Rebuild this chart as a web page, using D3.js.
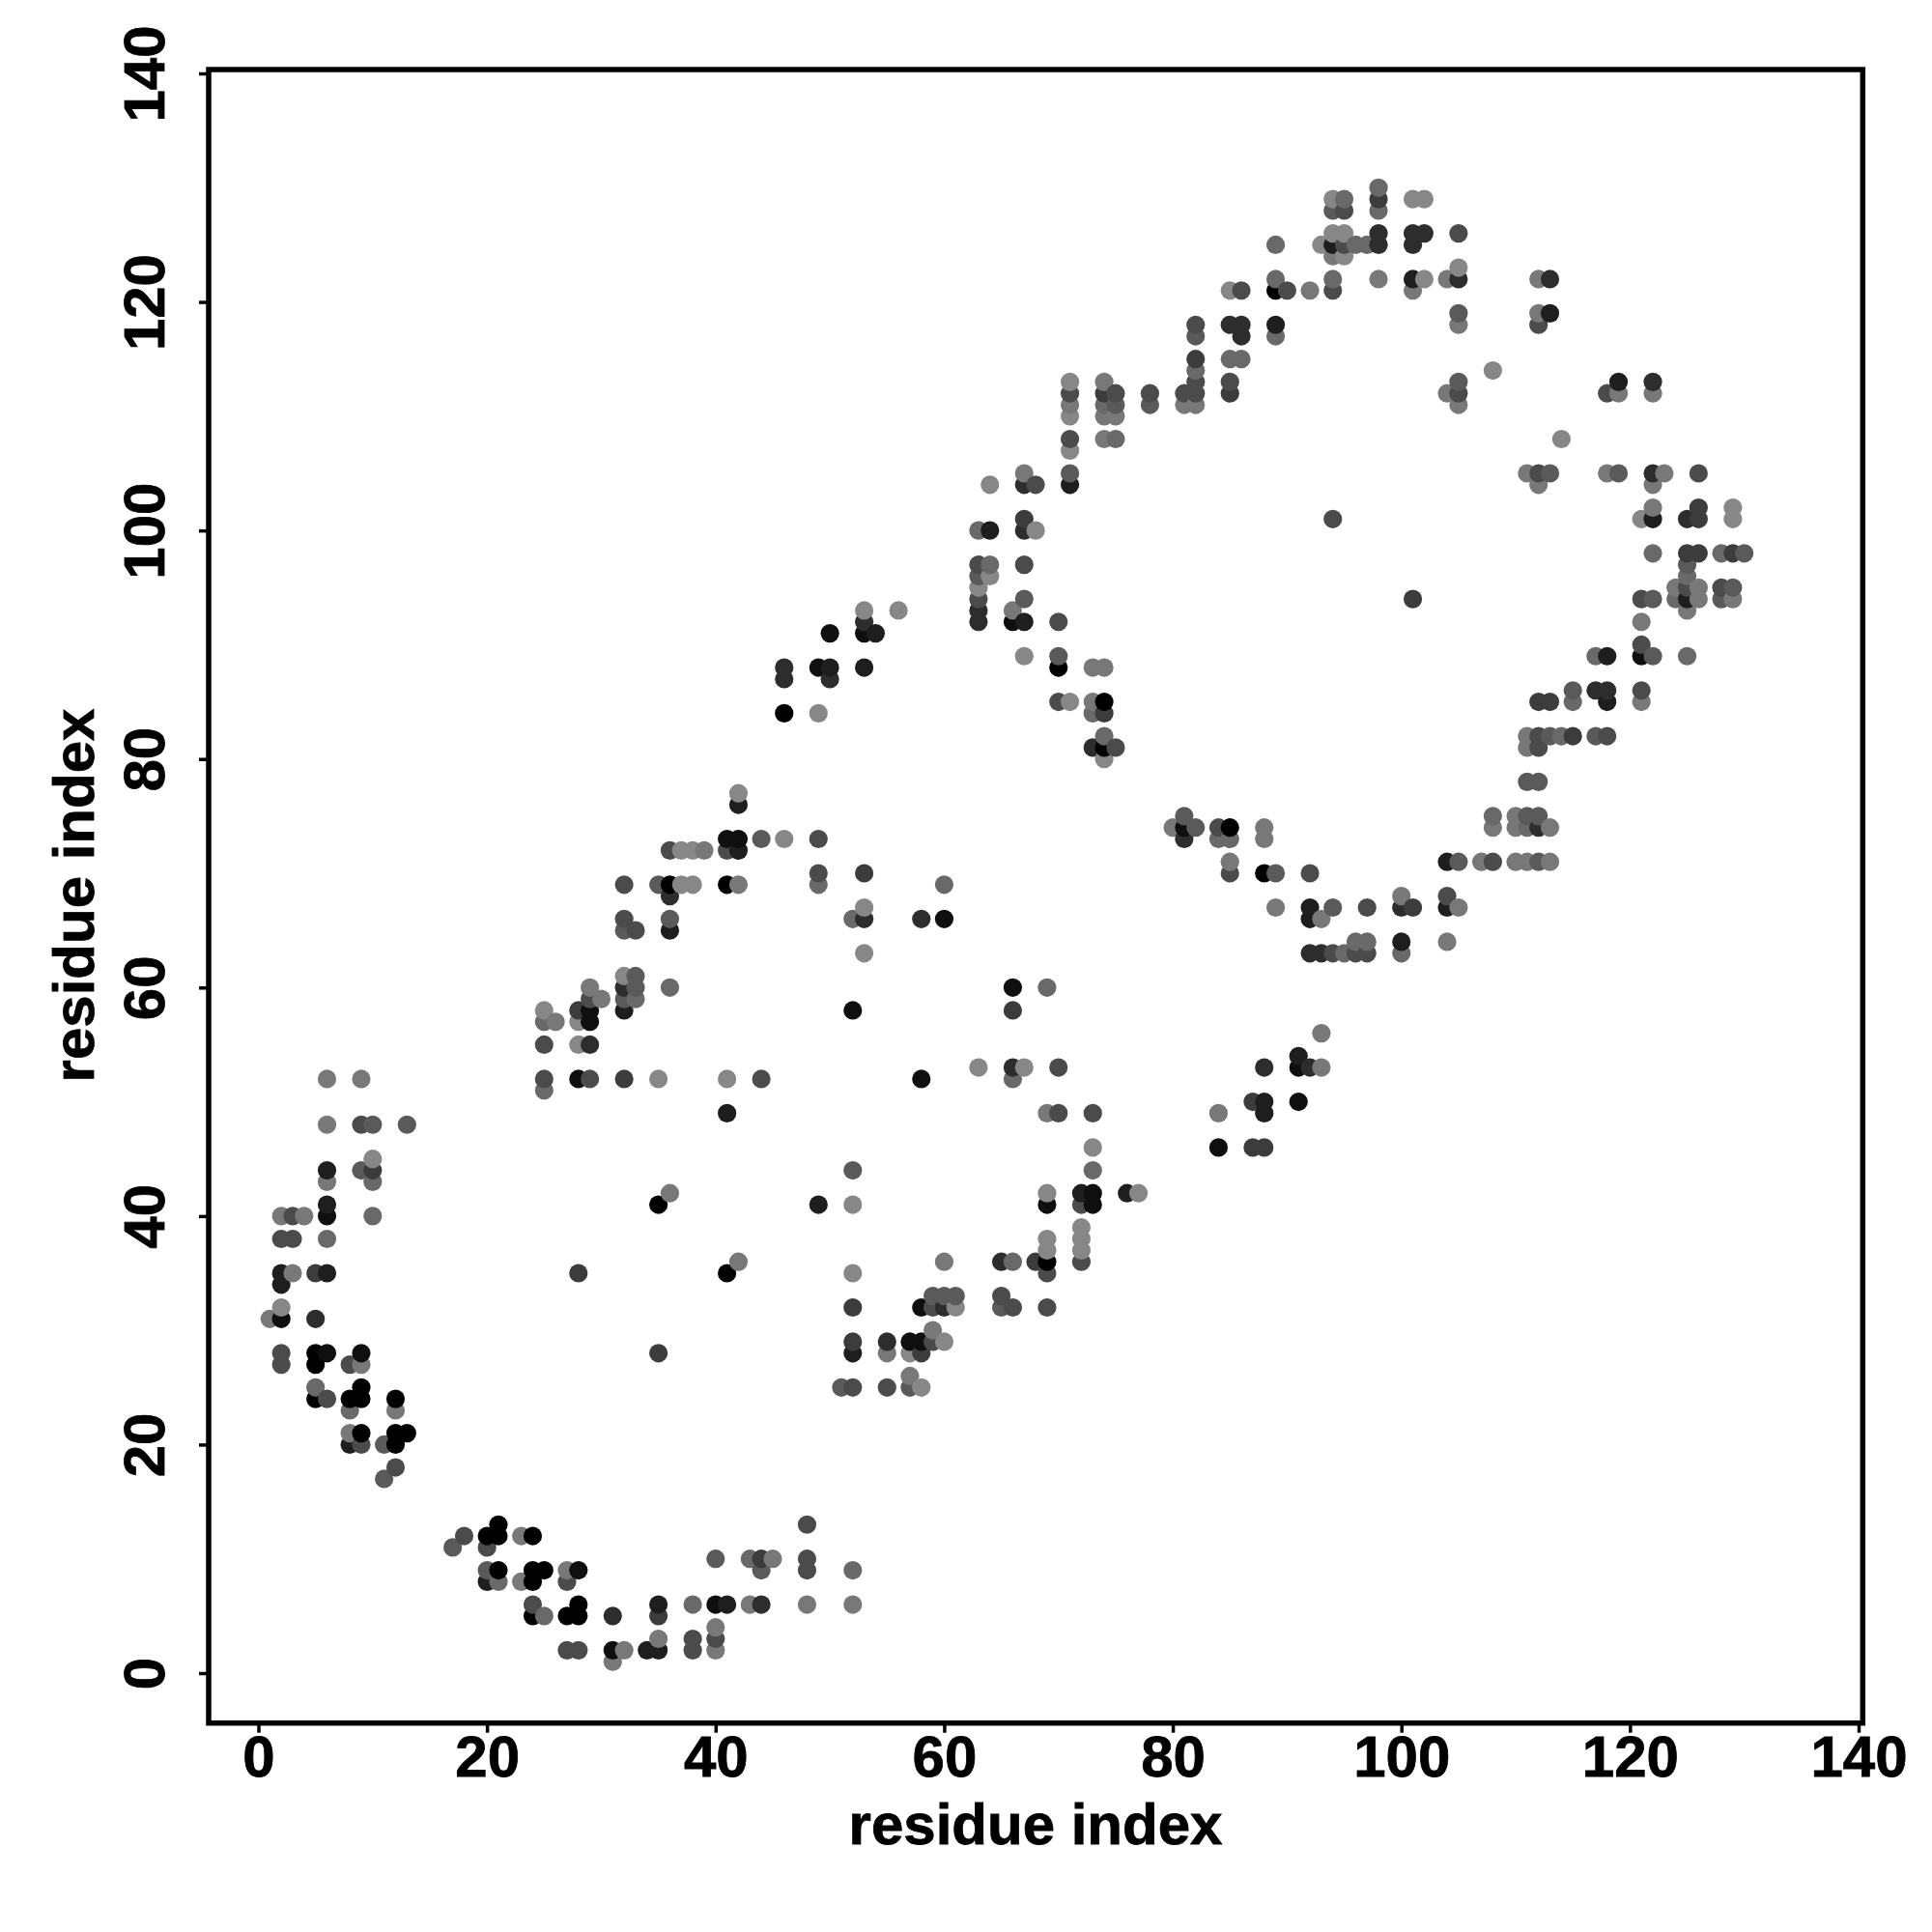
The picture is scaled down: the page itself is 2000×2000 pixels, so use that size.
<!DOCTYPE html>
<html><head><meta charset="utf-8">
<script src="https://cdn.jsdelivr.net/npm/d3@7/dist/d3.min.js"></script>
<style>html,body{margin:0;padding:0;background:#fff}svg{display:block}
text{font-family:"Liberation Sans",Arial,sans-serif;font-weight:bold;fill:#000;stroke:#000;stroke-width:0.8px}</style>
</head><body><div id="chart"></div>
<script>
// each contact: [residue i, residue j, shade level 0 (darkest) .. 9 (lightest)]
const lowerLeft = [[6,52,8],[9,52,8],[6,48,8],[9,48,5],[10,48,6],[13,48,6],[6,44,2],[6,43,8],[9,44,6],[10,45,9],[10,44,4],[10,43,7],[6,41,2],[6,40,1],[2,40,8],[3,40,5],[4,40,8],[10,40,7],[2,38,5],[3,38,5],[6,38,7],[2,35,2],[3,35,8],[5,35,4],[6,35,2],[2,34,2],[2,32,9],[1,31,8],[2,31,1],[5,31,3],[2,28,5],[5,28,0],[6,28,1],[9,28,1],[2,27,5],[5,27,0],[8,27,5],[9,27,8],[5,25,7],[9,25,0],[5,24,0],[6,24,5],[8,24,0],[9,24,0],[12,24,0],[8,23,7],[12,23,8],[8,21,8],[9,21,0],[12,21,0],[13,21,0],[8,20,2],[9,20,5],[11,20,6],[12,20,0],[12,18,5],[11,17,6]];
const bottomArc = [[21,13,0],[18,12,5],[20,12,0],[21,12,0],[23,12,8],[24,12,0],[17,11,6],[20,11,5],[20,9,6],[21,9,0],[24,9,0],[25,9,0],[27,9,8],[28,9,1],[20,8,2],[21,8,7],[23,8,8],[24,8,0],[27,8,5],[24,6,5],[28,6,0],[24,5,0],[25,5,7],[27,5,0],[28,5,0],[31,5,3],[27,2,5],[28,2,5],[31,2,1],[32,2,8],[34,2,2],[35,2,2],[31,1,8],[48,13,5],[40,10,6],[43,10,7],[44,10,4],[45,10,8],[48,10,5],[44,9,6],[48,9,5],[52,9,7],[35,6,2],[38,6,7],[40,6,1],[41,6,2],[43,6,8],[44,6,3],[48,6,8],[52,6,8],[35,5,4],[40,4,8],[35,3,8],[38,3,5],[40,3,5],[38,2,5],[40,2,8]];
const middleUpper = [[42,77,9],[42,76,2],[41,73,1],[42,73,1],[44,73,6],[46,73,9],[49,73,5],[36,72,5],[37,72,9],[38,72,9],[39,72,8],[41,72,5],[42,72,2],[49,70,5],[53,70,4],[32,69,5],[35,69,6],[36,69,0],[37,69,9],[38,69,9],[41,69,0],[42,69,8],[49,69,7],[60,69,7],[36,68,3],[53,67,9],[32,66,5],[36,66,6],[52,66,7],[53,66,3],[58,66,3],[60,66,1],[32,65,6],[33,65,5],[36,65,2],[53,63,9],[32,61,9],[33,61,6],[29,60,8],[32,60,3],[33,60,6],[36,60,7],[29,59,5],[30,59,8],[32,59,6],[33,59,7],[25,58,9],[28,58,4],[29,58,1],[32,58,2],[52,58,1],[25,57,7],[26,57,8],[28,57,9],[29,57,1],[25,55,5],[28,55,9],[29,55,3],[25,52,5],[28,52,1],[29,52,5],[32,52,4],[35,52,9],[41,52,9],[44,52,5],[25,51,7],[41,49,2],[36,42,8],[35,41,0],[42,36,8],[28,35,4],[41,35,0],[35,28,4]];
const middleLower = [[66,60,1],[69,60,7],[66,58,4],[63,53,9],[66,53,3],[67,53,9],[70,53,5],[58,52,1],[66,52,7],[69,49,8],[70,49,5],[73,49,5],[73,46,9],[52,44,6],[73,44,7],[69,42,9],[72,42,2],[73,42,1],[76,42,2],[77,42,9],[49,41,2],[52,41,9],[69,41,1],[72,41,5],[73,41,1],[72,39,9],[69,38,9],[72,38,9],[69,37,9],[72,37,9],[60,36,8],[65,36,3],[66,36,7],[68,36,4],[69,36,0],[72,36,5],[52,35,9],[69,35,5],[59,33,6],[60,33,6],[61,33,6],[65,33,5],[52,32,4],[58,32,1],[59,32,5],[60,32,3],[61,32,9],[65,32,6],[66,32,5],[69,32,5],[59,30,8],[52,29,4],[55,29,3],[57,29,1],[58,29,1],[59,29,5],[60,29,9],[52,28,2],[55,28,8],[57,28,9],[58,28,4],[57,26,8],[51,25,6],[52,25,5],[55,25,5],[57,25,6],[58,25,9]];
const bridge = [[93,56,8],[91,54,2],[88,53,3],[91,53,1],[92,53,3],[93,53,8],[87,50,4],[88,50,2],[91,50,1],[84,49,8],[88,49,2],[84,46,1],[87,46,4],[88,46,4]];
const upperLeft = [[71,113,9],[74,113,8],[71,112,5],[74,112,4],[75,112,5],[78,112,5],[71,111,8],[74,111,7],[75,111,6],[78,111,6],[71,110,9],[74,110,8],[75,110,8],[71,108,5],[74,108,8],[75,108,7],[71,107,9],[67,105,8],[71,105,6],[64,104,9],[67,104,3],[68,104,5],[71,104,2],[67,101,4],[63,100,7],[64,100,2],[67,100,3],[68,100,9],[63,97,5],[64,97,7],[67,97,5],[63,96,6],[64,96,9],[63,95,9],[63,94,5],[67,94,6],[53,93,9],[56,93,9],[63,93,3],[66,93,8],[53,92,3],[63,92,3],[66,92,1],[67,92,2],[70,92,5],[50,91,1],[53,91,1],[54,91,2],[67,89,9],[70,89,6],[46,88,3],[49,88,1],[50,88,2],[53,88,2],[70,88,0],[73,88,8],[74,88,8],[46,87,3],[50,87,3],[70,85,5],[71,85,9],[73,85,8],[74,85,0],[46,84,0],[49,84,9],[73,84,7],[74,84,4],[74,82,7],[73,81,3],[74,81,0],[75,81,5],[74,80,9]];
const topArc = [[98,130,7],[94,129,9],[95,129,7],[98,129,4],[101,129,9],[102,129,9],[94,128,6],[95,128,5],[98,128,7],[94,126,9],[95,126,9],[98,126,3],[101,126,3],[102,126,3],[105,126,5],[89,125,7],[93,125,9],[94,125,2],[95,125,5],[96,125,7],[97,125,7],[98,125,3],[101,125,3],[94,124,8],[95,124,9],[105,123,9],[89,122,7],[94,122,7],[98,122,8],[101,122,2],[102,122,9],[104,122,8],[105,122,3],[112,122,8],[113,122,3],[85,121,9],[86,121,5],[89,121,0],[90,121,5],[92,121,8],[94,121,5],[101,121,8],[105,119,6],[112,119,8],[113,119,2],[82,118,5],[85,118,3],[86,118,3],[89,118,2],[105,118,8],[112,118,5],[82,117,6],[86,117,3],[89,117,7],[82,115,4],[85,115,7],[86,115,7],[82,114,7],[108,114,9],[82,113,5],[85,113,5],[105,113,6],[119,113,2],[122,113,3],[81,112,5],[82,112,5],[85,112,4],[104,112,8],[105,112,5],[118,112,5],[119,112,8],[122,112,8],[81,111,8],[82,111,8],[105,111,8],[94,101,5],[101,94,4]];
const rightSide = [[114,108,9],[111,105,8],[112,105,5],[113,105,6],[118,105,8],[119,105,6],[122,105,3],[123,105,8],[126,105,5],[112,104,8],[122,104,8],[122,102,8],[126,102,4],[129,102,9],[121,101,9],[122,101,2],[125,101,3],[126,101,4],[129,101,9],[122,98,7],[125,98,4],[126,98,4],[128,98,7],[129,98,4],[130,98,6],[125,97,6],[125,96,7],[124,95,8],[125,95,5],[126,95,8],[128,95,5],[129,95,6],[121,94,5],[122,94,6],[124,94,7],[125,94,2],[126,94,8],[128,94,6],[129,94,8],[125,93,8],[121,92,8],[121,90,5],[117,89,7],[118,89,2],[121,89,1],[122,89,6],[125,89,7],[115,86,6],[117,86,3],[118,86,3],[121,86,5],[112,85,4],[113,85,4],[115,85,7],[118,85,2],[121,85,8],[111,82,8],[112,82,5],[113,82,6],[114,82,7],[115,82,4],[117,82,6],[118,82,5],[111,81,8],[112,81,5],[111,78,6],[112,78,6],[108,75,7],[110,75,8],[111,75,6],[112,75,6],[108,74,8],[110,74,8],[111,74,7],[112,74,3],[113,74,8],[104,71,2],[105,71,6],[107,71,8],[108,71,5],[110,71,8],[111,71,8],[112,71,6],[113,71,8]];
const lowerRight = [[81,75,6],[80,74,8],[81,74,1],[82,74,6],[84,74,5],[85,74,0],[88,74,8],[81,73,3],[84,73,7],[85,73,7],[88,73,8],[85,71,8],[85,70,5],[88,70,0],[89,70,6],[92,70,5],[100,68,8],[104,68,5],[89,67,8],[92,67,2],[94,67,6],[97,67,5],[100,67,3],[101,67,4],[104,67,2],[105,67,8],[92,66,2],[93,66,8],[96,64,7],[97,64,7],[100,64,2],[104,64,8],[92,63,3],[93,63,3],[94,63,5],[95,63,7],[96,63,5],[97,63,5],[100,63,7]];
const tickValues = [0,20,40,60,80,100,120,140];
const axisTitle = "residue index";

const contacts = [...lowerLeft,...bottomArc,...middleUpper,...middleLower,...bridge,...upperLeft,...topArc,...rightSide,...lowerRight];
contacts.sort((a,b)=>d3.ascending(a[0],b[0])||d3.ascending(a[1],b[1]));

const frame = {left:216,right:1928.3,top:72,bottom:1783.7};
const x = d3.scaleLinear([0,140],[267.5,1924]);
const y = d3.scaleLinear([0,140],[1732,76]);
const grey = d3.scaleLinear([0,9],[0,135]);

const svg = d3.select("#chart").append("svg").attr("width",2000).attr("height",2000);
svg.append("rect").attr("width",2000).attr("height",2000).attr("fill","#fff");

svg.append("g").selectAll("circle").data(contacts).join("circle")
  .attr("cx",d=>x(d[0])).attr("cy",d=>y(d[1])).attr("r",9.6)
  .attr("fill",d=>{const g=Math.round(grey(d[2]));return `rgb(${g},${g},${g})`;});

const xAxis = svg.append("g").attr("transform",`translate(0,${frame.bottom+2})`)
  .call(d3.axisBottom(x).tickValues(tickValues).tickFormat(d3.format("d")).tickSize(8).tickPadding(0));
xAxis.select(".domain").remove();
xAxis.selectAll("line").attr("stroke","#000").attr("stroke-width",3.5);
xAxis.selectAll("text").attr("y",null).attr("dy",null)
  .attr("transform",`translate(0,${1839-frame.bottom-2})`).attr("font-size",60).attr("text-anchor","middle");

const yAxis = svg.append("g").attr("transform",`translate(${frame.left-2},0)`)
  .call(d3.axisLeft(y).tickValues(tickValues).tickFormat(d3.format("d")).tickSize(8).tickPadding(0));
yAxis.select(".domain").remove();
yAxis.selectAll("line").attr("stroke","#000").attr("stroke-width",3.5);
yAxis.selectAll("text").attr("x",null).attr("dy",null)
  .attr("transform",`translate(${170-frame.left+2},0) rotate(-90)`).attr("font-size",60).attr("text-anchor","middle");

svg.append("rect").attr("x",frame.left).attr("y",frame.top)
  .attr("width",frame.right-frame.left).attr("height",frame.bottom-frame.top)
  .attr("fill","none").attr("stroke","#000").attr("stroke-width",5.5);

svg.append("text").attr("x",1072).attr("y",1909).attr("text-anchor","middle").attr("font-size",60).text(axisTitle);
svg.append("text").attr("transform","translate(97,927) rotate(-90)").attr("text-anchor","middle").attr("font-size",60).text(axisTitle);
</script></body></html>
